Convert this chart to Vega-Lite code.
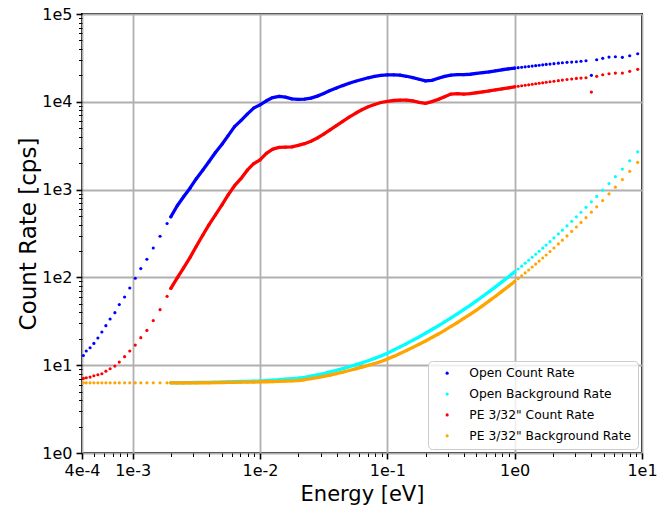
{
  "$schema": "https://vega.github.io/schema/vega-lite/v6.json",
  "width": 560,
  "height": 439,
  "autosize": {"type": "none"},
  "padding": {"left": 82, "top": 14, "right": 28, "bottom": 60},
  "background": "white",
  "config": {
    "view": {"stroke": "black", "strokeWidth": 2},
    "font": "DejaVu Sans",
    "axis": {"domain": false, "grid": true, "gridColor": "#b0b0b0", "gridWidth": 1.8, "tickColor": "black", "labelColor": "black", "titleColor": "black", "labelFont": "DejaVu Sans", "titleFont": "DejaVu Sans", "titleFontWeight": "normal", "labelFontSize": 16, "titleFontSize": 21, "labelOverlap": false, "labelBound": false, "labelFlush": false}
  },
  "data": {"values": [
    {"e":0.00041,"oc":12.9,"pc":7.07,"pb":6.3},
    {"e":0.000432,"oc":14.5,"pc":7.2,"pb":6.3},
    {"e":0.000463,"oc":15.8,"pc":7.32,"pb":6.3},
    {"e":0.000496,"oc":17.7,"pc":7.59,"pb":6.3},
    {"e":0.000533,"oc":20.4,"pc":7.79,"pb":6.3},
    {"e":0.000573,"oc":23.9,"pc":8.0,"pb":6.3},
    {"e":0.000616,"oc":28.2,"pc":8.56,"pb":6.3},
    {"e":0.000665,"oc":33.6,"pc":9.12,"pb":6.3},
    {"e":0.000725,"oc":39.7,"pc":9.77,"pb":6.3},
    {"e":0.000785,"oc":49.0,"pc":10.85,"pb":6.3},
    {"e":0.000864,"oc":59.8,"pc":12.5,"pb":6.3},
    {"e":0.000949,"oc":75.7,"pc":14.5,"pb":6.3},
    {"e":0.001048,"oc":97.7,"pc":16.95,"pb":6.3},
    {"e":0.001158,"oc":126,"pc":20.6,"pb":6.3},
    {"e":0.001293,"oc":161,"pc":24.9,"pb":6.3},
    {"e":0.001451,"oc":216,"pc":32.2,"pb":6.3},
    {"e":0.001641,"oc":294,"pc":42.9,"pb":6.3},
    {"e":0.001863,"oc":411,"pc":60.9,"pb":6.3},
    {"e":0.001995,"oc":491,"ob":6.31,"pc":75.2,"pb":6.30},
    {"e":0.002239,"oc":655,"ob":6.31,"pc":98.9,"pb":6.30},
    {"e":0.002512,"oc":830,"ob":6.31,"pc":128.6,"pb":6.30},
    {"e":0.002818,"oc":1038,"ob":6.33,"pc":168.2,"pb":6.30},
    {"e":0.003162,"oc":1331,"ob":6.35,"pc":226.3,"pb":6.30},
    {"e":0.003548,"oc":1664,"ob":6.37,"pc":302,"pb":6.31},
    {"e":0.003981,"oc":2090,"ob":6.38,"pc":400,"pb":6.31},
    {"e":0.004467,"oc":2650,"ob":6.40,"pc":515,"pb":6.33},
    {"e":0.005012,"oc":3266,"ob":6.42,"pc":665,"pb":6.35},
    {"e":0.005623,"oc":4120,"ob":6.45,"pc":870,"pb":6.37},
    {"e":0.00631,"oc":5210,"ob":6.48,"pc":1107,"pb":6.38},
    {"e":0.007079,"oc":6110,"ob":6.52,"pc":1330,"pb":6.40},
    {"e":0.007943,"oc":7244,"ob":6.55,"pc":1664,"pb":6.42},
    {"e":0.008913,"oc":8472,"ob":6.59,"pc":1972,"pb":6.43},
    {"e":0.01,"oc":9226,"ob":6.62,"pc":2177,"pb":6.45},
    {"e":0.01122,"oc":10260,"ob":6.69,"pc":2582,"pb":6.48},
    {"e":0.01259,"oc":11190,"ob":6.76,"pc":2884,"pb":6.50},
    {"e":0.01413,"oc":11560,"ob":6.83,"pc":3020,"pb":6.54},
    {"e":0.01585,"oc":11320,"ob":6.93,"pc":3041,"pb":6.59},
    {"e":0.01778,"oc":10820,"ob":7.02,"pc":3062,"pb":6.64},
    {"e":0.01995,"oc":10650,"ob":7.11,"pc":3184,"pb":6.69},
    {"e":0.02239,"oc":10740,"ob":7.28,"pc":3334,"pb":6.83},
    {"e":0.02512,"oc":11020,"ob":7.51,"pc":3556,"pb":7.03},
    {"e":0.02818,"oc":11610,"ob":7.77,"pc":3873,"pb":7.24},
    {"e":0.03162,"oc":12410,"ob":8.04,"pc":4285,"pb":7.45},
    {"e":0.03548,"oc":13420,"ob":8.39,"pc":4786,"pb":7.73},
    {"e":0.03981,"oc":14330,"ob":8.72,"pc":5358,"pb":8.00},
    {"e":0.04467,"oc":15300,"ob":9.15,"pc":5998,"pb":8.32},
    {"e":0.05012,"oc":16250,"ob":9.61,"pc":6699,"pb":8.70},
    {"e":0.05623,"oc":17130,"ob":10.08,"pc":7396,"pb":9.08},
    {"e":0.0631,"oc":17960,"ob":10.62,"pc":8110,"pb":9.49},
    {"e":0.07079,"oc":18780,"ob":11.25,"pc":8790,"pb":9.95},
    {"e":0.07943,"oc":19490,"ob":11.96,"pc":9311,"pb":10.46},
    {"e":0.08913,"oc":20050,"ob":12.73,"pc":9817,"pb":11.02},
    {"e":0.1,"oc":20270,"ob":13.70,"pc":10140,"pb":11.74},
    {"e":0.1122,"oc":20270,"ob":14.87,"pc":10350,"pb":12.60},
    {"e":0.1259,"oc":20100,"ob":16.17,"pc":10450,"pb":13.60},
    {"e":0.1413,"oc":19540,"ob":17.59,"pc":10450,"pb":14.67},
    {"e":0.1585,"oc":18880,"ob":19.23,"pc":10230,"pb":15.96},
    {"e":0.1778,"oc":18070,"ob":21.02,"pc":9863,"pb":17.31},
    {"e":0.1995,"oc":17300,"ob":23.11,"pc":9616,"pb":18.88},
    {"e":0.2239,"oc":17540,"ob":25.47,"pc":10050,"pb":20.69},
    {"e":0.2512,"oc":18530,"ob":28.06,"pc":10650,"pb":22.63},
    {"e":0.2818,"oc":19490,"ob":31.09,"pc":11400,"pb":24.94},
    {"e":0.3162,"oc":20150,"ob":34.62,"pc":12240,"pb":27.62},
    {"e":0.3548,"oc":20420,"ob":38.46,"pc":12360,"pb":30.52},
    {"e":0.3981,"oc":20370,"ob":43.05,"pc":12240,"pb":34.08},
    {"e":0.4467,"oc":20600,"ob":48.08,"pc":12400,"pb":37.86},
    {"e":0.5012,"oc":21090,"ob":54.11,"pc":12680,"pb":42.5},
    {"e":0.5623,"oc":21530,"ob":61.05,"pc":13000,"pb":47.8},
    {"e":0.631,"oc":21930,"ob":68.9,"pc":13310,"pb":53.95},
    {"e":0.7079,"oc":22550,"ob":78.1,"pc":13680,"pb":61.05},
    {"e":0.7943,"oc":23170,"ob":88.9,"pc":14030,"pb":69.4},
    {"e":0.8913,"oc":23710,"ob":101.1,"pc":14390,"pb":78.7},
    {"e":1.0,"oc":24220,"ob":115.5,"pc":14830,"pb":90.0},
    {"e":1.065,"oc":24480,"ob":124.7,"pc":15030,"pb":96.9},
    {"e":1.135,"oc":24740,"ob":134.2,"pc":15220,"pb":104.3},
    {"e":1.209,"oc":25000,"ob":145.2,"pc":15420,"pb":112.5},
    {"e":1.288,"oc":25260,"ob":156.7,"pc":15620,"pb":121.4},
    {"e":1.372,"oc":25530,"ob":169.5,"pc":15830,"pb":131.4},
    {"e":1.462,"oc":25800,"ob":183.4,"pc":16040,"pb":141.8},
    {"e":1.557,"oc":26080,"ob":198.4,"pc":16250,"pb":153.4},
    {"e":1.66,"oc":26350,"ob":215.3,"pc":16460,"pb":166.4},
    {"e":1.768,"oc":26630,"ob":233.5,"pc":16680,"pb":180.1},
    {"e":1.894,"oc":26910,"ob":255.3,"pc":16910,"pb":196.9},
    {"e":2.035,"oc":27200,"ob":281.4,"pc":17130,"pb":216.4},
    {"e":2.204,"oc":27560,"ob":312.6,"pc":17400,"pb":240.4},
    {"e":2.37,"oc":27840,"ob":345.3,"pc":17680,"pb":265.6},
    {"e":2.576,"oc":28140,"ob":386.6,"pc":17960,"pb":296.6},
    {"e":2.804,"oc":28360,"ob":435.1,"pc":18200,"pb":333.8},
    {"e":3.053,"oc":28580,"ob":489.6,"pc":18480,"pb":374.7},
    {"e":3.318,"oc":28960,"ob":552.5,"pc":18630,"pb":422.7},
    {"e":3.632,"oc":29340,"ob":628.3,"pc":18770,"pb":479.5},
    {"e":4.005,"oc":20000,"ob":726,"pc":12900,"pb":553.9},
    {"e":4.407,"oc":30120,"ob":836.6,"pc":19480,"pb":636.6},
    {"e":4.913,"oc":31250,"ob":984.5,"pc":20320,"pb":749.3},
    {"e":5.506,"oc":32330,"ob":1174,"pc":20860,"pb":893.3},
    {"e":6.181,"oc":32590,"ob":1403,"pc":21250,"pb":1065},
    {"e":7.015,"oc":32080,"ob":1713,"pc":21250,"pb":1300},
    {"e":8.006,"oc":33450,"ob":2125,"pc":22220,"pb":1613},
    {"e":9.252,"oc":35260,"ob":2691,"pc":23410,"pb":2042}
  ]},
  "encoding": {
    "x": {"field": "e", "type": "quantitative", "title": "Energy [eV]",
      "scale": {"type": "log", "domain": [0.0004, 10], "nice": false},
      "axis": {
        "values": [0.0004,0.0005,0.0006,0.0007,0.0008,0.0009,0.001,0.002,0.003,0.004,0.005,0.006,0.007,0.008,0.009,0.01,0.02,0.03,0.04,0.05,0.06,0.07,0.08,0.09,0.1,0.2,0.3,0.4,0.5,0.6,0.7,0.8,0.9,1,2,3,4,5,6,7,8,9,10],
        "labelExpr": "datum.value == 0.0004 ? '4e-4' : (abs(log(datum.value)/LN10 - round(log(datum.value)/LN10)) > 0.001 ? '' : '1e' + round(log(datum.value)/LN10))",
        "tickSize": {"condition": {"test": "datum.value != 0.0004 && abs(log(datum.value)/LN10 - round(log(datum.value)/LN10)) > 0.001", "value": 3.5}, "value": 6},
        "tickWidth": {"condition": {"test": "datum.value != 0.0004 && abs(log(datum.value)/LN10 - round(log(datum.value)/LN10)) > 0.001", "value": 1}, "value": 1.6},
        "gridOpacity": {"condition": {"test": "datum.value != 0.0004 && abs(log(datum.value)/LN10 - round(log(datum.value)/LN10)) > 0.001", "value": 0}, "value": 1},
        "labelPadding": 3, "titlePadding": 5
      }
    }
  },
  "layer": [
    {"transform": [{"filter": "datum.e >= 0.0019 && datum.e <= 1.001 && isValid(datum.oc)"}],
     "mark": {"type": "line", "color": "#0000ff", "strokeWidth": 3.3, "strokeCap": "round", "strokeJoin": "round"},
     "encoding": {"y": {"field": "oc", "type": "quantitative", "title": "Count Rate [cps]", "scale": {"type": "log", "domain": [1, 100000], "nice": false},
       "axis": {"values": [1,2,3,4,5,6,7,8,9,10,20,30,40,50,60,70,80,90,100,200,300,400,500,600,700,800,900,1000,2000,3000,4000,5000,6000,7000,8000,9000,10000,20000,30000,40000,50000,60000,70000,80000,90000,100000],
         "labelExpr": "abs(log(datum.value)/LN10 - round(log(datum.value)/LN10)) > 0.001 ? '' : '1e' + round(log(datum.value)/LN10)",
         "tickSize": {"condition": {"test": "abs(log(datum.value)/LN10 - round(log(datum.value)/LN10)) > 0.001", "value": 3.5}, "value": 6},
         "tickWidth": {"condition": {"test": "abs(log(datum.value)/LN10 - round(log(datum.value)/LN10)) > 0.001", "value": 1}, "value": 1.6},
         "gridOpacity": {"condition": {"test": "abs(log(datum.value)/LN10 - round(log(datum.value)/LN10)) > 0.001", "value": 0}, "value": 1},
         "labelPadding": 4, "titlePadding": 1, "titleFontSize": 23}}}},
    {"transform": [{"filter": "isValid(datum.oc)"}],
     "mark": {"type": "circle", "size": 10, "opacity": 1},
     "encoding": {"y": {"field": "oc", "type": "quantitative", "title": "Count Rate [cps]"},
       "color": {"datum": "Open Count Rate", "type": "nominal",
         "scale": {"domain": ["Open Count Rate", "Open Background Rate", "PE 3/32\" Count Rate", "PE 3/32\" Background Rate"], "range": ["#0000ff", "#00ffff", "#ff0000", "#ffa500"]},
         "legend": {"title": null, "orient": "none", "legendX": 346, "legendY": 347, "direction": "vertical", "symbolType": "circle", "symbolSize": 10, "labelFont": "DejaVu Sans", "labelFontSize": 12.3, "labelColor": "black", "labelLimit": 0, "rowPadding": 7.9, "padding": 6, "symbolOffset": 7, "labelOffset": 16, "strokeColor": "#cccccc", "fillColor": "rgba(255,255,255,0.8)", "cornerRadius": 4}}}},
    {"transform": [{"filter": "datum.e >= 0.0019 && datum.e <= 1.001 && isValid(datum.ob)"}],
     "mark": {"type": "line", "color": "#00ffff", "strokeWidth": 3.3, "strokeCap": "round", "strokeJoin": "round"},
     "encoding": {"y": {"field": "ob", "type": "quantitative", "title": "Count Rate [cps]"}}},
    {"transform": [{"filter": "isValid(datum.ob)"}],
     "mark": {"type": "circle", "size": 10, "opacity": 1},
     "encoding": {"y": {"field": "ob", "type": "quantitative", "title": "Count Rate [cps]"},
       "color": {"datum": "Open Background Rate", "type": "nominal"}}},
    {"transform": [{"filter": "datum.e >= 0.0019 && datum.e <= 1.001 && isValid(datum.pc)"}],
     "mark": {"type": "line", "color": "#ff0000", "strokeWidth": 3.3, "strokeCap": "round", "strokeJoin": "round"},
     "encoding": {"y": {"field": "pc", "type": "quantitative", "title": "Count Rate [cps]"}}},
    {"transform": [{"filter": "isValid(datum.pc)"}],
     "mark": {"type": "circle", "size": 10, "opacity": 1},
     "encoding": {"y": {"field": "pc", "type": "quantitative", "title": "Count Rate [cps]"},
       "color": {"datum": "PE 3/32\" Count Rate", "type": "nominal"}}},
    {"transform": [{"filter": "datum.e >= 0.0019 && datum.e <= 1.001 && isValid(datum.pb)"}],
     "mark": {"type": "line", "color": "#ffa500", "strokeWidth": 3.3, "strokeCap": "round", "strokeJoin": "round"},
     "encoding": {"y": {"field": "pb", "type": "quantitative", "title": "Count Rate [cps]"}}},
    {"transform": [{"filter": "isValid(datum.pb)"}],
     "mark": {"type": "circle", "size": 10, "opacity": 1},
     "encoding": {"y": {"field": "pb", "type": "quantitative", "title": "Count Rate [cps]"},
       "color": {"datum": "PE 3/32\" Background Rate", "type": "nominal"}}}
  ]
}
